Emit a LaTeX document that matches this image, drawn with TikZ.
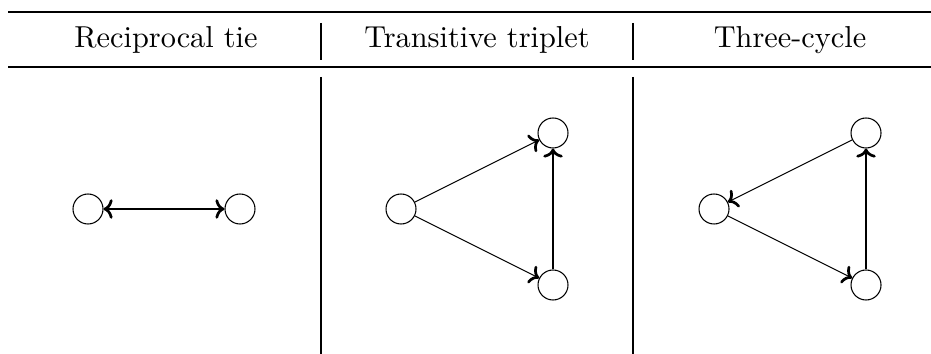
\documentclass[tikz,border=0pt]{standalone}
\usepackage{tikz}
\usetikzlibrary{positioning,arrows.meta}

\begin{document}
\begin{tikzpicture}[
            x=0.33pt,y=-0.33pt,
            vertex/.style={circle,draw,line width=0.35pt,inner sep=0pt,minimum size=9.9pt},
            header/.style={anchor=base,inner sep=0pt,font=\normalsize},
            arrow/.style={line width=0.35pt,-{To[line width=0.9pt,length=3pt,width=6.4pt]}},
            toprule/.style={line width=0.8pt},
            midrule/.style={line width=0.5pt},
            colrule/.style={line width=0.35pt}]
            \useasboundingbox (0,0) rectangle (931,354);
            % table rules
            \draw[toprule] (8,12) -- (931,12);
            \draw[midrule] (8,67) -- (931,67);
            \draw[colrule] (321,23) -- (321,60);
            \draw[colrule] (321,77) -- (321,354);
            \draw[colrule] (633,23) -- (633,60);
            \draw[colrule] (633,77) -- (633,354);
            % headers
            \node[header] (h1) at (166,48) {Reciprocal tie};
            \node[header] (h2) at (477,48) {Transitive triplet};
            \node[header] (h3) at (790,48) {Three-cycle};
            % reciprocal tie
            \node[vertex] (a1) at (88,209) {};
            \node[vertex] (a2) at (240,209) {};
            \draw[arrow] (a1)--(a2);
            \draw[arrow] (a2)--(a1);
            % transitive triplet
            \node[vertex] (b1) at (401,209) {};
            \node[vertex] (b2) at (553,133) {};
            \node[vertex] (b3) at (553,285) {};
            \draw[arrow] (b1)--(b2);
            \draw[arrow] (b1)--(b3);
            \draw[arrow] (b3)--(b2);
            % three-cycle
            \node[vertex] (c1) at (714,209) {};
            \node[vertex] (c2) at (866,133) {};
            \node[vertex] (c3) at (866,285) {};
            \draw[arrow] (c1)--(c3);
            \draw[arrow] (c3)--(c2);
            \draw[arrow] (c2)--(c1);
        \end{tikzpicture}
\end{document}
